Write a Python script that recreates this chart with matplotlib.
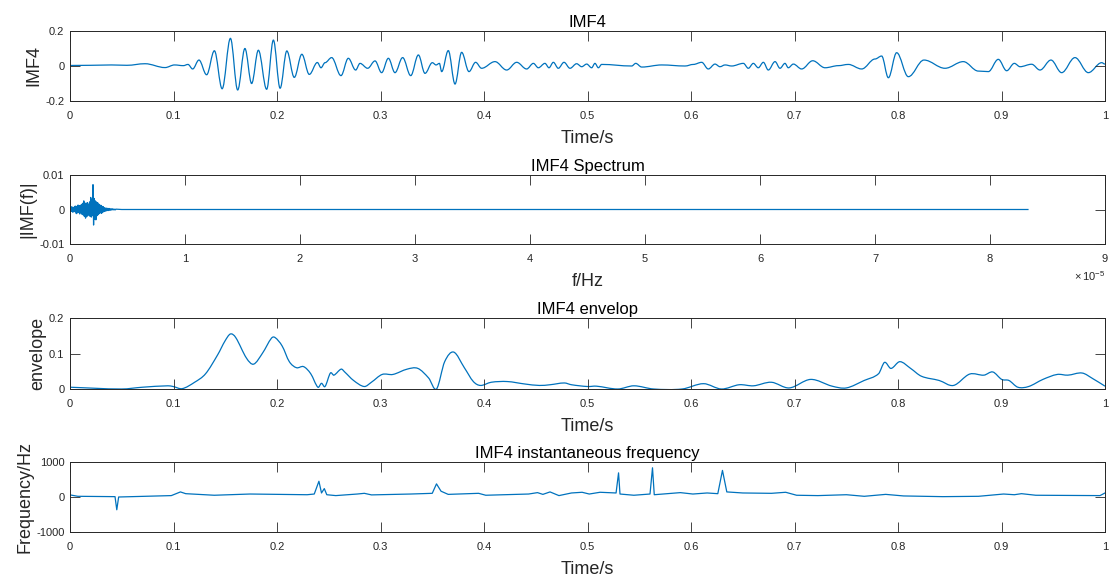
import numpy as np
import matplotlib
matplotlib.use("Agg")
import matplotlib.pyplot as plt
from matplotlib.path import Path
from matplotlib.patches import PathPatch

# IMF4 time signal: extrema (s, value)
imf_t = [0.0, 0.02, 0.04, 0.055, 0.0725, 0.0918, 0.101, 0.1095, 0.114,
         0.1185, 0.1246, 0.132, 0.1395, 0.147, 0.155, 0.162, 0.169, 0.1755,
         0.182, 0.190, 0.1965, 0.203, 0.2095, 0.2167, 0.224, 0.2312, 0.239,
         0.2425, 0.2464, 0.2528, 0.2618, 0.2689, 0.276, 0.2802, 0.2876, 0.2947,
         0.3011, 0.3076, 0.3140, 0.3214, 0.3292, 0.3366, 0.3430, 0.3501,
         0.3537, 0.3569, 0.3591, 0.3655, 0.3720, 0.3784, 0.3855, 0.3919,
         0.3977, 0.4106, 0.4219, 0.4316, 0.4412, 0.4477, 0.4525, 0.4589,
         0.4628, 0.4670, 0.4718, 0.4773, 0.4831, 0.4895, 0.4944, 0.4992,
         0.5040, 0.5072, 0.5105, 0.5137, 0.5427, 0.5466, 0.5524, 0.5717,
         0.5942, 0.6023, 0.6103, 0.6167, 0.6232, 0.6280, 0.6329, 0.6393,
         0.6506, 0.6554, 0.6602, 0.6650, 0.6699, 0.6747, 0.6812, 0.6860,
         0.6908, 0.6940, 0.6989, 0.7069, 0.7176, 0.7295, 0.7424, 0.7520,
         0.7649, 0.7778, 0.7842, 0.7907, 0.7987, 0.8100, 0.8251, 0.8454,
         0.8631, 0.8776, 0.8873, 0.8969, 0.9050, 0.9124, 0.9179, 0.9291,
         0.9372, 0.9478, 0.9581, 0.9710, 0.9839, 0.9968, 1.0]
imf_v = [0.003, 0.004, 0.006, 0.004, 0.013, -0.009, 0.006, 0.002, 0.009,
         -0.017, 0.034, -0.050, 0.087, -0.130, 0.158, -0.137, 0.100, -0.100,
         0.090, -0.133, 0.148, -0.127, 0.086, -0.065, 0.067, -0.048, 0.020,
         -0.010, 0.019, 0.048, -0.055, 0.044, -0.023, 0.015, -0.013, 0.029,
         -0.038, 0.044, -0.038, 0.048, -0.055, 0.063, -0.042, 0.019,
         0.006, 0.015, -0.032, 0.088, -0.103, 0.078, -0.032, 0.021,
         -0.013, 0.025, -0.023, 0.021, -0.017, 0.015, -0.010, 0.015,
         -0.010, 0.021, -0.013, 0.021, -0.013, 0.013, -0.004, 0.011,
         -0.010, 0.015, -0.010, 0.009, 0.000, 0.015, -0.006, 0.006,
         0.000, 0.009, 0.021, -0.017, 0.011, -0.004, 0.006, 0.000,
         0.015, -0.013, 0.015, -0.010, 0.021, -0.023, 0.025, -0.013,
         0.015, -0.010, 0.011, -0.017, 0.030, -0.010, 0.002, 0.009,
         -0.017, 0.040, 0.057, -0.067, 0.076, -0.061, 0.034, -0.013,
         0.025, -0.029, -0.032, 0.038, -0.027, 0.015, -0.004, 0.010,
         -0.023, 0.034, -0.038, 0.048, -0.038, 0.019, 0.011]

# IMF4 spectrum: burst near zero (read with 0.005e-5 Hz spacing), then flat
spec_step = 0.005e-5
spec_burst = [0.0004, -0.0006, 0.0008, -0.0005, 0.0007, -0.0008, 0.0006, -0.0004,
              0.0009, -0.0007, 0.0010, -0.0012, 0.0008, -0.0010, 0.0013, -0.0009,
              0.0011, -0.0013, 0.0012, -0.0008, 0.0015, -0.0014, 0.0018, -0.0016,
              0.0025, -0.0020, 0.0019, -0.0025, 0.0017, -0.0021, 0.0020, -0.0018,
              0.0016, -0.0015, 0.0022, -0.0020, 0.0035, -0.0022, 0.0030, -0.0018,
              0.0072, -0.0045, 0.0032, -0.0028, 0.0025, -0.0030, 0.0022, -0.0018,
              0.0020, -0.0015, 0.0016, -0.0012, 0.0013, -0.0010, 0.0012, -0.0011,
              0.0009, -0.0008, 0.0008, -0.0006, 0.0005, -0.0005, 0.0004, -0.0004,
              0.0004, -0.0003, 0.0003, -0.0003, 0.0003, -0.0002, 0.0002, -0.0002,
              0.0002, -0.0001, 0.0002, -0.0001, 0.0001, -0.0001, 0.0001, -0.0001,
              0.0001]
spec_tail_f = [0.45e-5, 8.33e-5]
spec_tail_v = [0.0, 0.0]

# envelope
env_t = [0.0, 0.0497, 0.070, 0.0946, 0.0997, 0.1084, 0.1204, 0.131, 0.1428,
         0.1497, 0.155, 0.1601, 0.1705, 0.1774, 0.186, 0.1946, 0.1981, 0.205,
         0.2119, 0.2188, 0.2257, 0.2326, 0.2395, 0.243, 0.2464, 0.2516, 0.255,
         0.262, 0.2654, 0.274, 0.2843, 0.2912, 0.3016, 0.312, 0.3258, 0.3361,
         0.3465, 0.3541, 0.3620, 0.3707, 0.381, 0.3897, 0.3966, 0.407, 0.4225,
         0.4397, 0.4535, 0.4638, 0.4776, 0.4845, 0.5, 0.5086, 0.5293, 0.5448,
         0.5638, 0.5914, 0.6121, 0.6294, 0.6466, 0.6604, 0.6776, 0.6949,
         0.7156, 0.7363, 0.7501, 0.7673, 0.7812, 0.787, 0.7932, 0.8018,
         0.8122, 0.8226, 0.8398, 0.8536, 0.8692, 0.8830, 0.8916, 0.9002,
         0.9072, 0.9158, 0.9262, 0.94, 0.9538, 0.9641, 0.9779, 0.9883, 1.0]
env_v = [0.005, 0.000, 0.005, 0.009, 0.007, 0.001, 0.019, 0.043, 0.097,
         0.135, 0.155, 0.145, 0.087, 0.070, 0.101, 0.143, 0.145, 0.121,
         0.077, 0.060, 0.063, 0.043, 0.005, 0.016, 0.007, 0.045, 0.039,
         0.056, 0.048, 0.024, 0.007, 0.019, 0.041, 0.041, 0.056, 0.058,
         0.031, 0.000, 0.077, 0.104, 0.060, 0.021, 0.010, 0.019, 0.021,
         0.014, 0.010, 0.012, 0.017, 0.012, 0.007, 0.008, 0.000, 0.009,
         0.000, 0.000, 0.015, 0.000, 0.012, 0.009, 0.019, 0.003,
         0.027, 0.008, 0.003, 0.024, 0.043, 0.075, 0.058, 0.077,
         0.058, 0.036, 0.024, 0.010, 0.042, 0.039, 0.048, 0.027,
         0.024, 0.005, 0.007, 0.027, 0.041, 0.039, 0.045, 0.029, 0.008]

# instantaneous frequency
inst_t = [0.0, 0.0076, 0.0435, 0.0452, 0.047, 0.0979, 0.1067, 0.1118, 0.1394,
          0.1739, 0.2291, 0.236, 0.2405, 0.243, 0.2457, 0.2481, 0.2568, 0.2775,
          0.2844, 0.2913, 0.3292, 0.35, 0.3541, 0.3585, 0.3654, 0.3948, 0.4017,
          0.4431, 0.4517, 0.4569, 0.4638, 0.4724, 0.4845, 0.4948, 0.5017,
          0.5121, 0.5276, 0.5300, 0.5314, 0.5448, 0.5604, 0.5628, 0.5645,
          0.5897, 0.6018, 0.6156, 0.6259, 0.6304, 0.6346, 0.6501, 0.6777,
          0.6915, 0.702, 0.7226, 0.7502, 0.7674, 0.7881, 0.8054, 0.8433,
          0.8778, 0.9020, 0.9124, 0.9193, 0.9331, 0.9952, 1.0]
inst_v = [60, 20, 10, -365, 0, 40, 145, 95, 50,
          85, 65, 85, 450, 115, 240, 65, 40, 85,
          105, 60, 85, 105, 375, 165, 75, 105, 50,
          85, 125, 75, 145, 40, 115, 135, 85,
          135, 115, 690, 85, 50, 85, 835, 65,
          125, 85, 115, 95, 760, 145, 115, 105,
          135, 50, 40, 65, 20, 75, 30, 10,
          20, 85, 65, 95, 50, 40, 115]

plt.rcParams['font.family'] = ['Liberation Sans', 'DejaVu Sans']
plt.rcParams['mathtext.fontset'] = 'custom'
plt.rcParams['mathtext.rm'] = 'Liberation Sans'
line_c = '#0072BD'
txt_c = '#262626'
xt = np.arange(0, 1.01, 0.1)
xtl = ['0', '0.1', '0.2', '0.3', '0.4', '0.5', '0.6', '0.7', '0.8', '0.9', '1']


def smooth_line(ax, x, y, flat=False, **kw):
    # draw a smooth curve through the read points (cubic Bezier segments)
    x = np.asarray(x, float)
    y = np.asarray(y, float)
    verts = [(x[0], y[0])]
    codes = [Path.MOVETO]
    n = len(x)
    for i in range(n - 1):
        dx = x[i + 1] - x[i]
        if flat:
            s0 = s1 = 0.0
        else:
            s0 = (y[min(i + 1, n - 1)] - y[max(i - 1, 0)]) / (x[min(i + 1, n - 1)] - x[max(i - 1, 0)])
            s1 = (y[min(i + 2, n - 1)] - y[i]) / (x[min(i + 2, n - 1)] - x[i])
        k = 0.36 if flat else 1 / 3
        verts += [(x[i] + k * dx, y[i] + s0 * k * dx),
                  (x[i + 1] - k * dx, y[i + 1] - s1 * k * dx),
                  (x[i + 1], y[i + 1])]
        codes += [Path.CURVE4] * 3
    ax.add_patch(PathPatch(Path(verts, codes), fill=False, **kw))


fig = plt.figure(figsize=(11.1, 5.79), dpi=100)
L, W = 70 / 1110, 1035 / 1110
boxes = [(31, 101), (175, 244), (318, 389), (462, 532)]
axs = [fig.add_axes([L, 1 - b / 579, W, (b - t) / 579]) for t, b in boxes]


def style(ax, title, ylabel, xlabel):
    ax.set_title(title, fontsize=12, color='black', pad=3)
    ax.set_ylabel(ylabel, fontsize=13, color=txt_c, labelpad=2)
    ax.set_xlabel(xlabel, fontsize=13, color=txt_c, labelpad=7)
    ax.tick_params(direction='in', top=True, right=True, length=7, width=0.6,
                   labelsize=8, colors=txt_c)
    ax.tick_params(axis='x', pad=7)
    ax.tick_params(axis='y', pad=4)
    for s in ax.spines.values():
        s.set_linewidth(0.7)
        s.set_color(txt_c)


ax = axs[0]
smooth_line(ax, imf_t, imf_v, flat=True, edgecolor=line_c, lw=0.9)
ax.set_xlim(0, 1)
ax.set_ylim(-0.2, 0.2)
ax.set_xticks(xt, xtl)
ax.set_yticks([-0.2, 0, 0.2], ['-0.2', '0', '0.2'])
style(ax, 'IMF4', 'IMF4', 'Time/s')

ax = axs[1]
spec_f = np.arange(len(spec_burst)) * spec_step
ax.plot(np.concatenate([spec_f, spec_tail_f]), np.concatenate([spec_burst, spec_tail_v]),
        color=line_c, lw=0.9)
ax.set_xlim(0, 9e-5)
ax.set_ylim(-0.01, 0.01)
ax.set_xticks(np.arange(10) * 1e-5, [str(i) for i in range(10)])
ax.set_yticks([-0.01, 0, 0.01], ['-0.01', '0', '0.01'])
style(ax, 'IMF4 Spectrum', '|IMF(f)|', 'f/Hz')
ax.text(1.0, -0.37, r'$\times\,10^{-5}$', transform=ax.transAxes, ha='right',
        va='top', fontsize=8, color=txt_c)

ax = axs[2]
smooth_line(ax, env_t, env_v, edgecolor=line_c, lw=0.9)
ax.set_xlim(0, 1)
ax.set_ylim(0, 0.2)
ax.set_xticks(xt, xtl)
ax.set_yticks([0, 0.1, 0.2], ['0', '0.1', '0.2'])
style(ax, 'IMF4 envelop', 'envelope', 'Time/s')

ax = axs[3]
ax.plot(inst_t, inst_v, color=line_c, lw=0.9)
ax.set_xlim(0, 1)
ax.set_ylim(-1000, 1000)
ax.set_xticks(xt, xtl)
ax.set_yticks([-1000, 0, 1000], ['-1000', '0', '1000'])
style(ax, 'IMF4 instantaneous frequency', 'Frequency/Hz', 'Time/s')

fig.savefig('out.png', dpi=100)
